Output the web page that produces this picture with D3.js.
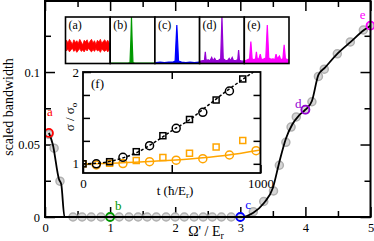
<!DOCTYPE html>
<html>
<head>
<meta charset="utf-8">
<script src="https://cdn.jsdelivr.net/npm/d3@7"></script>
<style>
body { margin: 0; background: #fff; }
svg { display: block; font-family: "Liberation Serif", "Times New Roman", serif; }
</style>
</head>
<body>
<script>
var width = 374, height = 241;

// ---- main panel data ----
var xMajor = [0, 1, 2, 3, 4, 5];
var xMinor = [0.5, 1.5, 2.5, 3.5, 4.5];
var yMajor = [0, 0.05, 0.1];
var yMinor = [0.025, 0.075, 0.125];

var grayX = [0.06, 0.14, 0.23, 0.43, 0.57, 0.71, 0.86, 1.0, 1.14, 1.29, 1.43, 1.57, 1.71, 1.86, 2.0, 2.14, 2.29,
  2.43, 2.57, 2.71, 2.86, 3.0, 3.2, 3.36, 3.51, 3.6, 3.7, 3.78, 3.86, 4.0, 4.1, 4.2, 4.29, 4.49, 4.69, 4.89, 5.0];
var grayY = [0.057, 0.0475, 0.0247, 0, 0, 0, 0, 0, 0, 0, 0, 0, 0, 0, 0, 0, 0,
  0, 0, 0, 0, 0, 0.0037, 0.0107, 0.018, 0.0357, 0.0515, 0.062, 0.069, 0.074, 0.0795, 0.097, 0.102, 0.1126, 0.1208, 0.129, 0.132];

var lineX = [0.06, 0.12, 0.215, 0.25, 0.3, 3.0, 3.2, 3.36, 3.5, 3.6, 3.7, 3.8, 3.9, 4.0, 4.1, 4.2, 4.3, 4.5, 4.7, 4.9, 5.0];
var lineY = [0.058, 0.05, 0.026, 0.0225, 0, 0, 0.003, 0.0095, 0.02, 0.038, 0.054, 0.064, 0.07, 0.074, 0.08, 0.098, 0.103, 0.113, 0.121, 0.129, 0.132];

var markNames = ["a", "b", "c", "d", "e"];
var markX = [0.06, 1, 3, 4, 5];
var markY = [0.058, 0, 0, 0.074, 0.132];
var markColors = ["#ff0000", "#009900", "#0000ff", "#9400d3", "#ff00ff"];

// ---- spectra insets (a)-(e) ----
var aUpper = [0.50, 0.44, 0.52, 0.47, 0.41, 0.51, 0.45, 0.49, 0.43, 0.52, 0.46, 0.40, 0.50, 0.47, 0.51, 0.42, 0.48, 0.52, 0.44, 0.49, 0.41, 0.50, 0.46, 0.52, 0.43, 0.48, 0.51, 0.45, 0.50, 0.44];
var aLower = [0.27, 0.31, 0.25, 0.29, 0.33, 0.26, 0.30, 0.24, 0.28, 0.32, 0.26, 0.29, 0.25, 0.31, 0.27, 0.33, 0.28, 0.25, 0.30, 0.26, 0.32, 0.27, 0.29, 0.24, 0.31, 0.28, 0.26, 0.30, 0.25, 0.29];
var specBX = [0, 0.40, 0.44, 0.46, 0.475, 0.49, 0.51, 0.55, 1];
var specBY = [0.01, 0.01, 0.02, 0.5, 1.0, 0.5, 0.02, 0.01, 0.01];
var specCX = [0, 0.1, 0.2, 0.3, 0.4, 0.45, 0.47, 0.49, 0.51, 0.53, 0.6, 0.7, 0.8, 0.9, 1];
var specCY = [0.02, 0.03, 0.02, 0.03, 0.03, 0.05, 0.45, 0.83, 0.45, 0.05, 0.03, 0.02, 0.03, 0.02, 0.03];
var specDX = [0, 0.05, 0.09, 0.11, 0.13, 0.18, 0.22, 0.26, 0.29, 0.33, 0.36, 0.42, 0.47, 0.5, 0.53, 0.58, 0.63, 0.67, 0.7, 0.74, 0.77, 0.83, 0.87, 0.89, 0.91, 0.96, 1];
var specDY = [0.05, 0.06, 0.07, 0.25, 0.07, 0.08, 0.06, 0.13, 0.06, 0.11, 0.06, 0.07, 0.1, 1.0, 0.1, 0.07, 0.06, 0.11, 0.06, 0.13, 0.06, 0.07, 0.08, 0.29, 0.07, 0.05, 0.05];
var specEX = [0, 0.05, 0.1, 0.13, 0.16, 0.2, 0.24, 0.26, 0.28, 0.32, 0.35, 0.38, 0.44, 0.48, 0.515, 0.55, 0.6, 0.65, 0.69, 0.72, 0.75, 0.8, 0.83, 0.88, 0.91, 0.94, 1];
var specEY = [0.06, 0.08, 0.1, 0.47, 0.1, 0.08, 0.1, 0.25, 0.1, 0.1, 0.2, 0.08, 0.1, 0.12, 0.83, 0.12, 0.09, 0.1, 0.08, 0.2, 0.1, 0.16, 0.08, 0.1, 0.4, 0.1, 0.08];

// ---- inset (f) data ----
var sqT = [0, 150, 300, 450, 600, 750, 900];
var circT = [75, 225, 375, 525, 675, 825];
var blackSq = [1.0, 1.023, 1.132, 1.306, 1.483, 1.695, 1.924];
var blackCirc = [1.0, 1.071, 1.197, 1.387, 1.561, 1.793];
var blackFitT = [0, 100, 200, 300, 400, 500, 600, 700, 800, 900, 960];
var blackFitS = [1.0, 1.01, 1.05, 1.12, 1.23, 1.36, 1.48, 1.63, 1.78, 1.92, 2.0];
var orSqT = [0, 150, 300, 450, 600, 750, 900];
var orSq = [1.0, 1.006, 1.036, 1.069, 1.115, 1.183, 1.254];
var orCircT = [75, 225, 375, 525, 675, 825, 975];
var orCirc = [0.987, 1.003, 1.023, 1.04, 1.056, 1.096, 1.143];
var orFitT = [0, 200, 400, 600, 800, 1000];
var orFitS = [1.0, 1.01, 1.028, 1.052, 1.09, 1.15];

var svg = d3.select("body").append("svg")
    .attr("width", width)
    .attr("height", height);

var x = d3.scaleLinear().domain([0, 5]).range([45, 370.5]);
var y = d3.scaleLinear().domain([0, 0.149]).range([217, 1]);

function addAxis(parent, axis, tr, fs) {
  var a = parent.append("g").attr("transform", tr).call(axis);
  a.attr("font-family", null).attr("font-size", fs || 12.5);
  a.select(".domain").remove();
  a.selectAll(".tick line").attr("stroke", "#000").attr("stroke-width", 1.5);
  a.selectAll(".tick text").attr("fill", "#000");
  return a;
}

var main = svg.append("g");

addAxis(main, d3.axisBottom(x).tickValues(xMajor).tickSize(-10).tickPadding(6).tickFormat(d3.format("d")), "translate(0,217)");
addAxis(main, d3.axisBottom(x).tickValues(xMinor).tickSize(-6).tickFormat(""), "translate(0,217)");
addAxis(main, d3.axisTop(x).tickValues(xMajor).tickSize(-10).tickFormat(""), "translate(0,1)");
addAxis(main, d3.axisTop(x).tickValues(xMinor).tickSize(-6).tickFormat(""), "translate(0,1)");
addAxis(main, d3.axisLeft(y).tickValues(yMajor).tickSize(-10).tickPadding(5)
    .tickFormat(function(d){ return d === 0 ? "0" : d3.format(".2~f")(d); }), "translate(45,0)");
addAxis(main, d3.axisLeft(y).tickValues(yMinor).tickSize(-6).tickFormat(""), "translate(45,0)");
addAxis(main, d3.axisRight(y).tickValues(yMajor).tickSize(-10).tickFormat(""), "translate(370.5,0)");
addAxis(main, d3.axisRight(y).tickValues(yMinor).tickSize(-6).tickFormat(""), "translate(370.5,0)");

// gray simulation points
main.selectAll(".gray")
    .data(grayX)
  .enter().append("circle")
    .attr("class", "gray")
    .attr("cx", function(d){ return x(d); })
    .attr("cy", function(d, i){ return y(grayY[i]); })
    .attr("r", 4)
    .attr("fill", "#d6d6d6")
    .attr("stroke", "#b0b0b0")
    .attr("stroke-width", 1.5);

var line = d3.line()
    .x(function(d){ return x(d); })
    .y(function(d, i){ return y(lineY[i]); })
    .curve(d3.curveMonotoneX);

main.append("path")
    .datum(lineX)
    .attr("d", line)
    .attr("fill", "none")
    .attr("stroke", "#000")
    .attr("stroke-width", 1.8);

// labelled points a-e
var labelOff = [[1, -17, "middle"], [5, -7, "start"], [5, -8, "start"], [-4, -2, "end"], [-5, -7, "end"]];
main.selectAll(".mark")
    .data(markNames)
  .enter().append("circle")
    .attr("class", "mark")
    .attr("cx", function(d, i){ return x(markX[i]); })
    .attr("cy", function(d, i){ return y(markY[i]); })
    .attr("r", 4)
    .attr("fill", "none")
    .attr("stroke", function(d, i){ return markColors[i]; })
    .attr("stroke-width", 1.8);

main.selectAll(".mark-label")
    .data(markNames)
  .enter().append("text")
    .attr("class", "mark-label")
    .attr("x", function(d, i){ return x(markX[i]) + labelOff[i][0]; })
    .attr("y", function(d, i){ return y(markY[i]) + labelOff[i][1]; })
    .attr("text-anchor", function(d, i){ return labelOff[i][2]; })
    .attr("font-size", 13)
    .attr("fill", function(d, i){ return markColors[i]; })
    .text(function(d){ return d; });

main.append("rect")
    .attr("x", 45).attr("y", 1)
    .attr("width", 325.5).attr("height", 216)
    .attr("fill", "none").attr("stroke", "#000").attr("stroke-width", 2);

main.append("text")
    .attr("transform", "translate(13,107)rotate(-90)")
    .attr("text-anchor", "middle")
    .attr("font-size", 14)
    .text("scaled bandwidth");

var xt = main.append("text")
    .attr("x", 206).attr("y", 236)
    .attr("text-anchor", "middle")
    .attr("font-size", 14);
xt.append("tspan").text("\u03A9' / E");
xt.append("tspan").attr("font-size", 10).attr("dy", 3).text("r");

// ---- spectra insets ----
var panels = ["(a)", "(b)", "(c)", "(d)", "(e)"];
var band = d3.scaleBand().domain(panels).range([65.5, 289]);
var py = d3.scaleLinear().domain([0, 1]).range([63.5, 17]);
var specs = [null, [specBX, specBY], [specCX, specCY], [specDX, specDY], [specEX, specEY]];
var specColors = ["#ff0000", "#009900", "#0000ff", "#9400d3", "#ff00ff"];

panels.forEach(function(p, k){
  var x0 = band(p), bw = band.bandwidth();
  var g = svg.append("g");
  g.append("rect").attr("x", x0).attr("y", 17).attr("width", bw).attr("height", 46.5).attr("fill", "#fff");
  if (k === 0) {
    var ix = d3.scaleLinear().domain([0, aUpper.length - 1]).range([x0 + 1, x0 + bw - 1]);
    g.append("path")
        .datum(aUpper)
        .attr("d", d3.area()
            .x(function(d, i){ return ix(i); })
            .y0(function(d, i){ return py(aLower[i]); })
            .y1(function(d){ return py(d); }))
        .attr("fill", specColors[k])
        .attr("stroke", specColors[k])
        .attr("stroke-width", 0.8);
  } else {
    var sx = d3.scaleLinear().domain([0, 1]).range([x0 + 1, x0 + bw - 1]);
    var xs = specs[k][0], ys = specs[k][1];
    g.append("path")
        .datum(xs)
        .attr("d", d3.area()
            .x(function(d){ return sx(d); })
            .y0(py(0))
            .y1(function(d, i){ return py(ys[i]); }))
        .attr("fill", specColors[k])
        .attr("stroke", specColors[k])
        .attr("stroke-width", 1.2);
  }
  g.append("rect").attr("x", x0).attr("y", 17).attr("width", bw).attr("height", 46.5)
      .attr("fill", "none").attr("stroke", "#000").attr("stroke-width", 1.6);
  g.append("text").attr("x", x0 + 3).attr("y", 29).attr("font-size", 12).text(p);
});

// ---- inset (f) ----
var fx = d3.scaleLinear().domain([0, 1000]).range([83, 260.5]);
var fy = d3.scaleLinear().domain([0.9, 2.0]).range([173, 72]);
var f = svg.append("g");

f.append("rect").attr("x", 83).attr("y", 72).attr("width", 177.5).attr("height", 101).attr("fill", "#fff");
f.append("clipPath").attr("id", "fclip")
  .append("rect").attr("x", 83).attr("y", 72).attr("width", 177.5).attr("height", 101);

addAxis(f, d3.axisBottom(fx).tickValues([0, 500, 1000]).tickSize(-8).tickPadding(6)
    .tickFormat(function(d){ return d === 500 ? "" : d; }), "translate(0,173)", 13);
addAxis(f, d3.axisTop(fx).tickValues([500]).tickSize(-7).tickFormat(""), "translate(0,72)");
addAxis(f, d3.axisLeft(fy).tickValues([1, 2]).tickSize(-8).tickPadding(4).tickFormat(d3.format("d")), "translate(83,0)", 13);
addAxis(f, d3.axisLeft(fy).tickValues([1.25, 1.5, 1.75]).tickSize(-7).tickFormat(""), "translate(83,0)");
addAxis(f, d3.axisRight(fy).tickValues([1, 1.25, 1.5, 1.75]).tickSize(-7).tickFormat(""), "translate(260.5,0)");

var fc = f.append("g").attr("clip-path", "url(#fclip)");

function fLine(ts, ss, color, dash) {
  fc.append("path")
      .datum(ts)
      .attr("d", d3.line()
          .x(function(d){ return fx(d); })
          .y(function(d, i){ return fy(ss[i]); })
          .curve(d3.curveMonotoneX))
      .attr("fill", "none")
      .attr("stroke", color)
      .attr("stroke-width", 1.5)
      .attr("stroke-dasharray", dash);
}
function fSquares(ts, ss, color) {
  fc.selectAll(null).data(ts).enter().append("rect")
      .attr("x", function(d){ return fx(d) - 3; })
      .attr("y", function(d, i){ return fy(ss[i]) - 3; })
      .attr("width", 6).attr("height", 6)
      .attr("fill", "none").attr("stroke", color).attr("stroke-width", 1.5);
}
function fCircles(ts, ss, color) {
  fc.selectAll(null).data(ts).enter().append("circle")
      .attr("cx", function(d){ return fx(d); })
      .attr("cy", function(d, i){ return fy(ss[i]); })
      .attr("r", 4)
      .attr("fill", "none").attr("stroke", color).attr("stroke-width", 1.5);
}

fLine(orFitT, orFitS, "#ffa500", null);
fSquares(orSqT, orSq, "#ffa500");
fCircles(orCircT, orCirc, "#ffa500");
fLine(blackFitT, blackFitS, "#000", "3,2");
fSquares(sqT, blackSq, "#000");
fCircles(circT, blackCirc, "#000");

f.append("rect").attr("x", 83).attr("y", 72).attr("width", 177.5).attr("height", 101)
    .attr("fill", "none").attr("stroke", "#000").attr("stroke-width", 1.8);

f.append("text").attr("x", 91).attr("y", 88).attr("font-size", 13).text("(f)");

var ft = f.append("text")
    .attr("x", 175).attr("y", 195)
    .attr("text-anchor", "middle")
    .attr("font-size", 13);
ft.append("tspan").text("t (\u0127/E");
ft.append("tspan").attr("font-size", 9).attr("dy", 3).text("r");
ft.append("tspan").attr("dy", -3).text(")");

var fyt = f.append("text")
    .attr("transform", "translate(74,117)rotate(-90)")
    .attr("text-anchor", "middle")
    .attr("font-size", 13);
fyt.append("tspan").text("\u03C3 / \u03C3");
fyt.append("tspan").attr("font-size", 9).attr("dy", 3).text("o");
</script>
</body>
</html>
